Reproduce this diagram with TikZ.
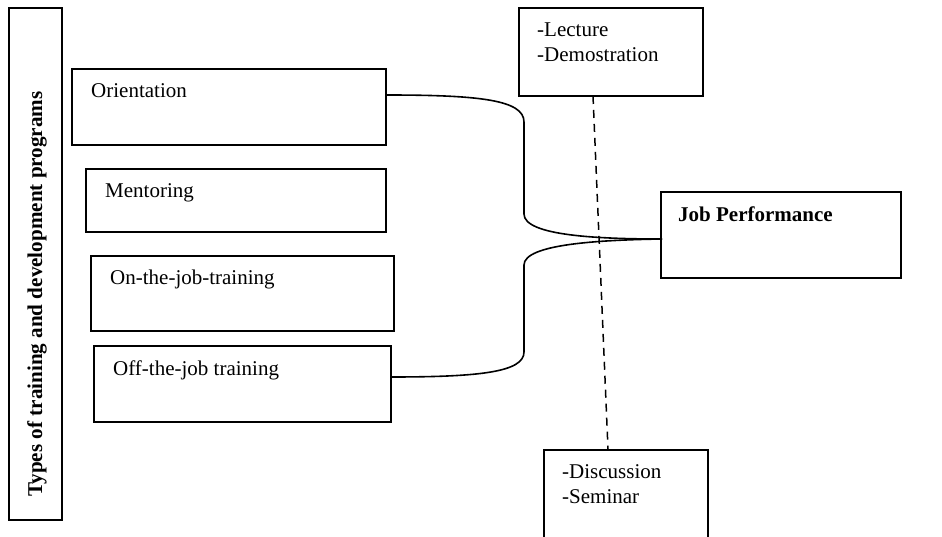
\documentclass[tikz,border=0pt]{standalone}
\usepackage{fontspec}
\setmainfont{Liberation Serif}
\usetikzlibrary{calc}
\tikzset{
  box/.style={draw, line width=1.8pt, inner sep=0pt, anchor=north west},
  lbl/.style={anchor=base west, inner sep=0pt, font=\fontsize{21}{25}\selectfont, align=left},
  link/.style={line width=1.6pt},
  guide/.style={line width=1.5pt, dash pattern=on 8pt off 6pt},
}
\newcommand{\boxat}[5]{% name, x1, y1, x2, y2
  \node[box, minimum width={(#4-#2)*1pt}, minimum height={(#5-#3)*1pt}] (#1) at (#2,#3) {};}
\begin{document}
\begin{tikzpicture}[x=1pt, y=-1pt]
  \useasboundingbox (0,0) rectangle (942,537);

  % left banner
  \boxat{types}{8}{7}{61}{519}
  \node[anchor=base west, inner sep=0pt, rotate=90, font=\fontsize{21.1}{24}\selectfont\bfseries]
    (types-t) at (42,497) {Types of training and development programs};

  % program boxes
  \boxat{ori}{71}{68}{385}{144}
  \node[lbl] (ori-t) at (91,98) {Orientation};
  \boxat{men}{85}{168}{385}{231}
  \node[lbl] (men-t) at (105,198) {Mentoring};
  \boxat{onj}{90}{255}{393}{330}
  \node[lbl] (onj-t) at (110,285) {On-the-job-training};
  \boxat{off}{93}{345}{390}{421}
  \node[lbl] (off-t) at (113,375) {Off-the-job training};

  % methods (base anchor sits on the last line)
  \boxat{lec}{518}{7}{702}{95}
  \node[lbl] (lec-t) at (537,62) {-Lecture\\-Demostration};
  \boxat{dis}{543}{449}{707}{560}
  \node[lbl] (dis-t) at (562,503) {-Discussion\\-Seminar};

  % outcome
  \boxat{jp}{660}{191}{900}{277}
  \node[lbl, font=\fontsize{21}{25}\selectfont\bfseries] (jp-t) at (678,222) {Job Performance};

  % connectors
  \coordinate (ori-out) at (386,95);
  \coordinate (off-out) at (391,377);
  \coordinate (jp-in) at (662,239);
  \coordinate (lec-out) at (593,96);
  \coordinate (dis-in) at (608,449);

  \draw[link] (ori-out) .. controls (480,95) and (524,100) .. (524,122)
    -- (524,214) .. controls (524,236) and (600,239) .. (jp-in);
  \draw[link] (off-out) .. controls (480,377) and (524,372) .. (524,352)
    -- (524,265) .. controls (524,244) and (600,240) .. (jp-in);

  \draw[guide] (lec-out) -- (dis-in);
\end{tikzpicture}
\end{document}
